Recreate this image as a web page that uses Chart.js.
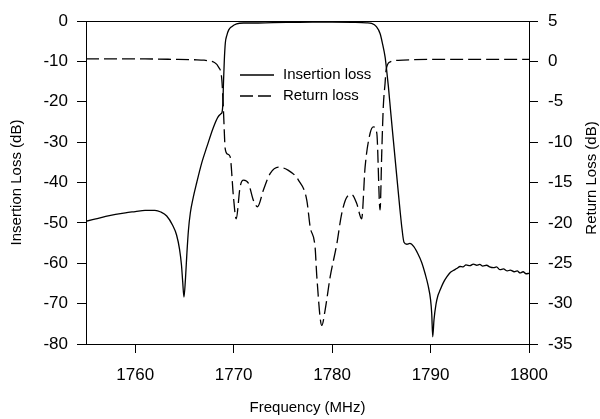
<!DOCTYPE html>
<html lang="en">
<head>
<meta charset="utf-8">
<title>Insertion loss / Return loss</title>
<script src="https://cdn.jsdelivr.net/npm/chart.js@4.4.1/dist/chart.umd.min.js"></script>
<style>
  html, body { margin: 0; padding: 0; background: #fff; }
  #wrap { width: 600px; height: 419px; }
</style>
</head>
<body>
<div id="wrap"><canvas id="filterChart" width="600" height="419"></canvas></div>
<script>
// Datos (frecuencia en MHz, pérdidas en dB)
const ilFreq = [
  1755, 1756, 1757, 1758, 1759, 1760, 1761, 1762, 1762.6, 1763.2, 1763.8, 1764.2, 1764.5,
  1764.7, 1764.82, 1764.95, 1765.1, 1765.25, 1765.4, 1765.6, 1765.9, 1766.25, 1766.75, 1767.3,
  1767.9, 1768.4, 1768.7, 1768.82, 1768.9, 1768.97, 1769.05, 1769.15, 1769.3, 1769.5,
  1769.8, 1770.3, 1771, 1772, 1774, 1776, 1778, 1780, 1782, 1783.5, 1784, 1784.5, 1784.87,
  1785.1, 1785.38, 1785.55, 1785.72, 1785.95, 1786.22, 1786.55, 1786.9, 1787.1, 1787.3,
  1787.6, 1787.9, 1788.3, 1788.7, 1789.1, 1789.45, 1789.75, 1790, 1790.12, 1790.22, 1790.35,
  1790.55, 1790.75, 1790.96, 1791.3, 1791.65, 1792, 1792.3, 1792.66, 1793, 1793.3, 1793.6,
  1794, 1794.35, 1794.7, 1795, 1795.3, 1795.7, 1796, 1796.4, 1796.7, 1797.06, 1797.4,
  1797.8, 1798.1, 1798.5, 1798.8, 1799.1, 1799.4, 1799.7, 1800
];
const ilValues = [
  -49.6, -49.0, -48.4, -47.9, -47.5, -47.2, -46.9, -46.9, -47.3, -48.3, -50.6, -53.0, -56.5,
  -60.5, -64.5, -68.4, -64.0, -57.5, -52.0, -47.5, -43.6, -40.0, -35.2, -31.0,
  -26.6, -23.8, -23.0, -22.6, -20.5, -15.0, -9.7, -5.5, -3.6, -2.2,
  -1.4, -0.7, -0.5, -0.5, -0.4, -0.35, -0.3, -0.3, -0.35, -0.45, -0.6, -1.4, -3.1,
  -5.4, -8.9, -12.4, -16.3, -22.5, -29.5, -38.0, -46.9, -51.5, -54.8,
  -55.3, -55.1, -55.9, -57.6, -59.8, -62.6, -65.5, -69.0, -72.5, -78.2, -74.0,
  -70.2, -68.0, -66.7, -64.8, -63.4, -62.3, -61.8, -61.3, -60.8, -60.9, -60.4,
  -60.6, -60.2, -60.5, -60.3, -60.7, -60.5, -60.9, -61.1, -60.9, -61.6, -61.4,
  -61.9, -61.7, -62.1, -61.9, -62.4, -62.1, -62.6, -62.5
];

const rlFreq = [
  1755, 1758, 1761, 1764, 1766, 1767, 1767.5, 1767.95, 1768.46, 1768.8, 1768.96, 1769.14,
  1769.4, 1769.64, 1769.98, 1770.25, 1770.66, 1771, 1771.5, 1772, 1772.42, 1773.03, 1773.7,
  1774.55, 1775.56, 1776.58, 1777.43, 1777.77, 1778.27, 1778.45, 1778.95, 1779.29, 1779.8,
  1780.48, 1780.95, 1781.5, 1782, 1782.5, 1783, 1783.35, 1783.86, 1784.19, 1784.54, 1784.87,
  1785.05, 1785.2, 1785.38, 1785.48, 1785.89, 1786.73, 1788, 1791, 1795, 1800
];
const rlValues = [
  0.3, 0.3, 0.3, 0.25, 0.2, 0.15, 0.05, -0.07, -0.7, -2.3, -6.0, -10.8,
  -11.5, -11.8, -16.8, -19.5, -15.5, -14.7, -15.1, -17.2, -18.0, -15.9, -13.9,
  -13.1, -13.5, -14.7, -17.2, -20.5, -23.0, -26.7, -32.7, -30.8, -26.7,
  -22.6, -19.0, -16.8, -16.5, -17.6, -19.5, -13.1, -8.9, -8.1, -8.9, -18.4,
  -11.0, -5.6, -2.7, -1.1, -0.07, 0.13, 0.2, 0.25, 0.25, 0.25
];

// Marcas de los ejes
const freqTicks = [1760, 1770, 1780, 1790, 1800];
const ilTicks = [-80, -70, -60, -50, -40, -30, -20, -10, 0];
const rlTicks = [-35, -30, -25, -20, -15, -10, -5, 0, 5];

document.addEventListener('DOMContentLoaded', () => {
  const FONT = "'Liberation Sans', Arial, sans-serif";
  const ink = '#000';

  const toPoints = (xs, ys) => xs.map((x, i) => ({ x, y: ys[i] }));
  const setTicks = (list) => (scale) => { scale.ticks = list.map(value => ({ value })); };

  // Leyenda dentro del área de trazado
  const innerLegend = {
    id: 'innerLegend',
    afterDatasetsDraw(chart) {
      const { ctx } = chart;
      ctx.save();
      chart.data.datasets.forEach((ds, i) => {
        const y = 75 + i * 21;
        ctx.beginPath();
        ctx.setLineDash(ds.borderDash || []);
        ctx.lineWidth = 1.6;
        ctx.strokeStyle = ds.borderColor;
        ctx.moveTo(240, y);
        ctx.lineTo(274, y);
        ctx.stroke();
        ctx.setLineDash([]);
        ctx.fillStyle = ink;
        ctx.font = `15px ${FONT}`;
        ctx.textBaseline = 'middle';
        ctx.fillText(ds.label, 283, y);
      });
      ctx.restore();
    }
  };

  // Marco superior y título del eje derecho (leído de abajo arriba)
  const frameAndTitle = {
    id: 'frameAndTitle',
    afterDraw(chart) {
      const { ctx, chartArea: a } = chart;
      ctx.save();
      ctx.strokeStyle = ink;
      ctx.lineWidth = 1;
      ctx.beginPath();
      ctx.moveTo(a.left, a.top + 0.5);
      ctx.lineTo(a.right, a.top + 0.5);
      ctx.stroke();

      ctx.translate(592, 178);
      ctx.rotate(-Math.PI / 2);
      ctx.fillStyle = ink;
      ctx.font = `15px ${FONT}`;
      ctx.textAlign = 'center';
      ctx.textBaseline = 'middle';
      ctx.fillText(chart.scales.y1.options.title.text, 0, 0);
      ctx.restore();
    }
  };

  const axisBase = {
    border: { display: true, color: ink, width: 1 },
    grid: { drawOnChartArea: false, drawTicks: true, tickLength: 9, color: ink }
  };

  new Chart(document.getElementById('filterChart'), {
    type: 'line',
    data: {
      datasets: [
        {
          label: 'Insertion loss',
          data: toPoints(ilFreq, ilValues),
          yAxisID: 'y',
          borderColor: ink,
          borderWidth: 1.3,
          pointRadius: 0,
          cubicInterpolationMode: 'monotone',
          fill: false
        },
        {
          label: 'Return loss',
          data: toPoints(rlFreq, rlValues),
          yAxisID: 'y1',
          borderColor: ink,
          borderWidth: 1.3,
          borderDash: [13, 5],
          pointRadius: 0,
          cubicInterpolationMode: 'monotone',
          fill: false
        }
      ]
    },
    options: {
      responsive: false,
      animation: false,
      layout: { padding: { top: 21, left: 0, right: 0, bottom: 0 } },
      plugins: { legend: { display: false }, tooltip: { enabled: false } },
      scales: {
        x: {
          ...axisBase,
          type: 'linear',
          min: 1755,
          max: 1800,
          afterBuildTicks: setTicks(freqTicks),
          afterFit: (s) => { s.height = 75; },
          ticks: { color: ink, font: { family: FONT, size: 17 }, padding: 12, maxRotation: 0, callback: (v) => String(v) },
          title: { display: true, text: 'Frequency (MHz)', color: ink, font: { family: FONT, size: 15 }, padding: { top: 0, bottom: 2 } }
        },
        y: {
          ...axisBase,
          position: 'left',
          min: -80,
          max: 0,
          afterBuildTicks: setTicks(ilTicks),
          afterFit: (s) => { s.width = 86; },
          ticks: { color: ink, font: { family: FONT, size: 17 }, padding: 9 },
          title: { display: true, text: 'Insertion Loss (dB)', color: ink, font: { family: FONT, size: 15 }, padding: { top: 8, bottom: 0 } }
        },
        y1: {
          ...axisBase,
          position: 'right',
          min: -35,
          max: 5,
          afterBuildTicks: setTicks(rlTicks),
          afterFit: (s) => { s.width = 71; },
          ticks: { color: ink, font: { family: FONT, size: 17 }, padding: 10 },
          title: { display: false, text: 'Return Loss (dB)' }
        }
      }
    },
    plugins: [innerLegend, frameAndTitle]
  });
});
</script>
</body>
</html>
